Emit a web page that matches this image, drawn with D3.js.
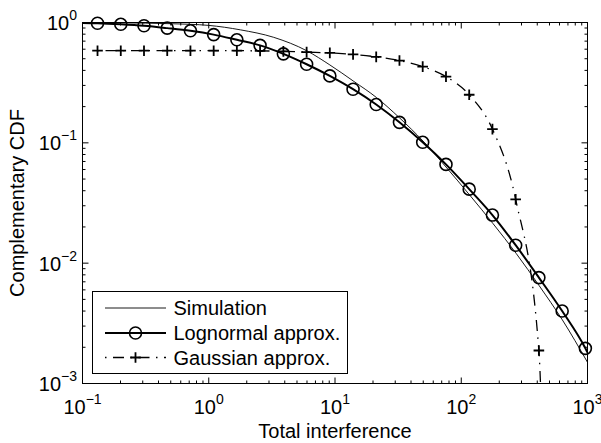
<!DOCTYPE html>
<html>
<head>
<meta charset="utf-8">
<script src="https://cdn.jsdelivr.net/npm/d3@7"></script>
<style>
  body { margin: 0; background: #fff; }
  svg text { font-family: "Liberation Sans", Arial, Helvetica, sans-serif; fill: #000; }
</style>
</head>
<body>
<svg id="ccdf" width="601" height="443"></svg>
<script>
// values
const markerX = [0.1315, 0.201, 0.307, 0.469, 0.716, 1.094, 1.67, 2.55, 3.90, 5.96, 9.10,
                 13.9, 21.2, 32.4, 49.5, 75.7, 115.6, 176.6, 269.8, 412, 630, 962];
const lognormalY = [0.985, 0.966, 0.939, 0.898, 0.853, 0.793, 0.718, 0.646, 0.549, 0.450, 0.360,
                    0.279, 0.208, 0.148, 0.101, 0.0662, 0.0412, 0.0251, 0.0141, 0.00759, 0.00400, 0.00196];
const lognormalStart = [0.1, 0.99];
const lognormalEnd = [1000, 0.00181];
const gaussianY = [0.583, 0.583, 0.583, 0.583, 0.583, 0.583, 0.583, 0.581, 0.576, 0.567, 0.559,
                   0.543, 0.518, 0.483, 0.430, 0.355, 0.251, 0.130, 0.0339, 0.00188];
const gaussianTail = [445, 0.0002]; // line keeps falling below the axis after the last marker
const simX = [0.1, 0.2, 0.5, 1, 1.78, 3.27, 6.0, 9.1, 14.1, 21.3, 32.5, 49.8, 75.8, 116.6, 178.6, 273, 415, 632, 1000];
const simY = [0.998, 0.994, 0.977, 0.946, 0.869, 0.753, 0.581, 0.444, 0.324, 0.238, 0.161,
              0.1035, 0.0629, 0.0368, 0.0213, 0.0120, 0.00648, 0.00338, 0.00150];
const xTickValues = [0.1, 1, 10, 100, 1000];
const xTickExp = ["\u22121", "0", "1", "2", "3"];
const yTickValues = [0.001, 0.01, 0.1, 1];
const yTickExp = ["\u22123", "\u22122", "\u22121", "0"];
const seriesNames = ["Simulation", "Lognormal approx.", "Gaussian approx."];

const svg = d3.select("#ccdf"),
      width = 601, height = 443,
      margin = { top: 22.5, right: 13.5, bottom: 59.5, left: 82.5 };

const x = d3.scaleLog().domain([0.1, 1000]).range([margin.left, width - margin.right]);
const y = d3.scaleLog().domain([0.001, 1]).range([height - margin.bottom, margin.top]);
const plotW = width - margin.right - margin.left,
      plotH = height - margin.bottom - margin.top;

// minor ticks at 2..9 within each decade
const minorTicks = decades => decades.slice(0, -1).flatMap(d => d3.range(2, 10).map(k => d * k));

function tickRow(axisFn, scale, values, size, tx, ty) {
  svg.append("g")
    .attr("transform", `translate(${tx},${ty})`)
    .call(axisFn(scale).tickValues(values).tickSize(-size).tickFormat("").offset(0))
    .call(g => g.select(".domain").remove())
    .selectAll("line").attr("stroke", "#000");
}

[[xTickValues, 6], [minorTicks(xTickValues), 3]].forEach(([vals, len]) => {
  tickRow(d3.axisBottom, x, vals, len, 0, margin.top + plotH);
  tickRow(d3.axisTop, x, vals, len, 0, margin.top);
});
[[yTickValues, 6], [minorTicks(yTickValues), 3]].forEach(([vals, len]) => {
  tickRow(d3.axisLeft, y, vals, len, margin.left, 0);
  tickRow(d3.axisRight, y, vals, len, margin.left + plotW, 0);
});

svg.append("rect")
  .attr("x", margin.left).attr("y", margin.top)
  .attr("width", plotW).attr("height", plotH)
  .attr("fill", "none").attr("stroke", "#000").attr("stroke-width", 1);

// tick labels as 10^n
function powerLabel(sel, exps) {
  sel.style("font-size", "20px").each(function (d, i) {
    const t = d3.select(this);
    t.append("tspan").text("10");
    t.append("tspan").attr("dy", -10).style("font-size", "14px").text(exps[i]);
  });
}
svg.append("g").selectAll("text").data(xTickValues).join("text")
  .attr("x", d => x(d)).attr("y", 414).attr("text-anchor", "middle")
  .call(powerLabel, xTickExp);
svg.append("g").selectAll("text").data(yTickValues).join("text")
  .attr("x", 77).attr("y", d => y(d) + 7.5).attr("text-anchor", "end")
  .call(powerLabel, yTickExp);

svg.append("text")
  .attr("x", margin.left + plotW / 2).attr("y", 438)
  .attr("text-anchor", "middle").style("font-size", "20px")
  .text("Total interference");
svg.append("text")
  .attr("transform", `translate(24,${margin.top + plotH / 2}) rotate(-90)`)
  .attr("text-anchor", "middle").style("font-size", "20px")
  .text("Complementary CDF");

// data
svg.append("clipPath").attr("id", "plot-area")
  .append("rect").attr("x", margin.left).attr("y", margin.top).attr("width", plotW).attr("height", plotH);

const line = d3.line().x(d => x(d[0])).y(d => y(d[1])).curve(d3.curveMonotoneX);
const simData = simX.map((v, i) => [v, simY[i]]);
const lognormalPts = markerX.map((v, i) => [v, lognormalY[i]]);
const gaussianPts = gaussianY.map((v, i) => [markerX[i], v]);

const lines = svg.append("g").attr("clip-path", "url(#plot-area)").attr("fill", "none").attr("stroke", "#000");
lines.append("path").attr("d", line(simData)).attr("stroke-width", 0.9);
lines.append("path").attr("d", line([lognormalStart, ...lognormalPts, lognormalEnd])).attr("stroke-width", 2);
lines.append("path").attr("d", line([...gaussianPts, gaussianTail]))
  .attr("stroke-width", 1.3).attr("stroke-dasharray", "1.5,6.5,11,6.5");

const plusPath = s => `M${-s},0H${s}M0,${-s}V${s}`;

svg.append("g").selectAll("circle").data(lognormalPts).join("circle")
  .attr("cx", d => x(d[0])).attr("cy", d => y(d[1])).attr("r", 6)
  .attr("fill", "none").attr("stroke", "#000").attr("stroke-width", 1.6);
svg.append("g").selectAll("path").data(gaussianPts).join("path")
  .attr("transform", d => `translate(${x(d[0])},${y(d[1])})`)
  .attr("d", plusPath(5.3))
  .attr("stroke", "#000").attr("stroke-width", 1.8);

// legend
const legend = svg.append("g").attr("transform", "translate(92.5,291.5)");
legend.append("rect").attr("width", 255).attr("height", 82)
  .attr("fill", "#fff").attr("stroke", "#000").attr("stroke-width", 1);
const rowY = [16.5, 41.5, 66];
const styles = [
  { w: 0.9, dash: null, mark: null },
  { w: 2, dash: null, mark: "circle" },
  { w: 1.3, dash: "1.5,6.5,11,6.5", mark: "plus" }
];
seriesNames.forEach((name, i) => {
  const row = legend.append("g").attr("transform", `translate(0,${rowY[i]})`);
  row.append("line").attr("x1", 12.5).attr("x2", 73.5)
    .attr("stroke", "#000").attr("stroke-width", styles[i].w)
    .attr("stroke-dasharray", styles[i].dash);
  if (styles[i].mark === "circle")
    row.append("circle").attr("cx", 43).attr("r", 6).attr("fill", "none")
      .attr("stroke", "#000").attr("stroke-width", 1.6);
  if (styles[i].mark === "plus")
    row.append("path").attr("transform", "translate(43,0)").attr("d", plusPath(5.3))
      .attr("stroke", "#000").attr("stroke-width", 1.8);
  row.append("text").attr("x", 81).attr("y", 7).style("font-size", "20px").text(name);
});
</script>
</body>
</html>
